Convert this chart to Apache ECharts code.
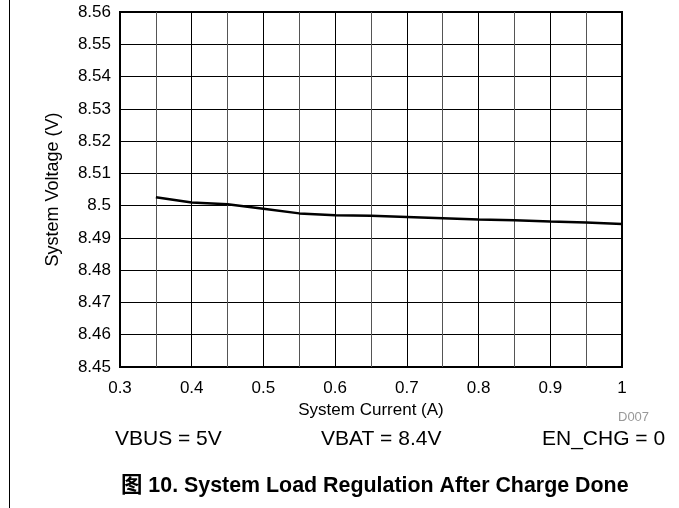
<!DOCTYPE html>
<html><head><meta charset="utf-8">
<script src="https://cdn.jsdelivr.net/npm/echarts@6/dist/echarts.min.js"></script>
<style>html,body{margin:0;padding:0;background:#fff}#c{width:679px;height:508px}</style>
</head><body><div id="c"></div>
<script>
const currents = [0.35,0.4,0.45,0.5,0.55,0.6,0.65,0.7,0.75,0.8,0.85,0.9,0.95,1.0];
const voltages = [8.5026,8.5010,8.5004,8.4990,8.4976,8.4970,8.4969,8.4965,8.4961,8.4957,8.4955,8.4951,8.4948,8.4943];
const xName = 'System Current (A)';
const yName = 'System Voltage (V)';
const notes = ['VBUS = 5V','VBAT = 8.4V','EN_CHG = 0'];
const caption = '图 10. System Load Regulation After Charge Done';
const F = '"Liberation Sans", Arial, "Noto Sans CJK SC", sans-serif';
const chart = echarts.init(document.getElementById('c'));
chart.setOption({
  animation:false,
  grid:{left:120,top:12,right:57,bottom:141,show:true,borderColor:'#000',borderWidth:2,containLabel:false},
  xAxis:{type:'value',min:0.3,max:1,interval:0.1,
    name:xName,nameLocation:'middle',nameGap:32,nameTextStyle:{fontFamily:F,fontSize:17,color:'#000'},
    axisLine:{show:false},axisTick:{show:false},
    axisLabel:{fontFamily:F,fontSize:17,color:'#000',margin:13,formatter:v=>String(+v.toFixed(2))},
    splitLine:{show:true,lineStyle:{color:'#000',width:1}},
    minorTick:{show:false,splitNumber:2},
    minorSplitLine:{show:true,lineStyle:{color:'#555',width:1}}},
  yAxis:{type:'value',min:8.45,max:8.56,interval:0.01,
    name:yName,nameLocation:'middle',nameGap:58,nameTextStyle:{fontFamily:F,fontSize:18,color:'#000'},
    axisLine:{show:false},axisTick:{show:false},
    axisLabel:{fontFamily:F,fontSize:17,color:'#000',margin:9,formatter:v=>String(+v.toFixed(2))},
    splitLine:{show:true,lineStyle:{color:'#000',width:1}}},
  series:[{type:'line',data:currents.map((c,i)=>[c,voltages[i]]),showSymbol:false,
    lineStyle:{color:'#000',width:2.5},z:5}],
  graphic:[
    {type:'line',shape:{x1:9.5,y1:0,x2:9.5,y2:508},style:{stroke:'#000',lineWidth:1}},
    {type:'text',left:618,top:411,style:{text:'D007',fill:'#999',font:'13px '+F}},
    {type:'text',left:115,top:429,style:{text:notes[0],fill:'#000',font:'21px '+F}},
    {type:'text',left:321,top:429,style:{text:notes[1],fill:'#000',font:'21px '+F}},
    {type:'text',left:542,top:429,style:{text:notes[2],fill:'#000',font:'21px '+F}},
    {type:'text',left:121,top:475,style:{text:caption,fill:'#000',font:'bold 21.4px '+F}}
  ]
});
</script></body></html>
